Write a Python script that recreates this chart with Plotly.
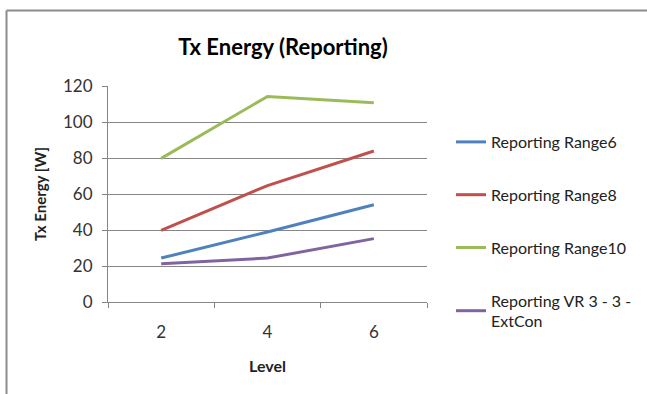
import plotly.graph_objects as go

levels = ["2", "4", "6"]
series_names = ["Reporting Range6", "Reporting Range8", "Reporting Range10", "Reporting VR 3 - 3 -<br>ExtCon"]
range6 = [24.4, 38.9, 54.0]
range8 = [39.8, 64.7, 83.9]
range10 = [79.8, 114.2, 110.7]
vr_extcon = [21.2, 24.4, 35.2]
colors = ["#4F81BD", "#C0504D", "#9BBB59", "#8064A2"]

FONT = "Lato"
fig = go.Figure()
for i, (name, vals) in enumerate(zip(series_names, [range6, range8, range10, vr_extcon])):
    fig.add_trace(go.Scatter(x=levels, y=vals, mode="lines", name=name,
                             legendgroup=f"g{i}",
                             line=dict(color=colors[i], width=3)))

W, H = 647, 394
L, R, T, B = 108, 220, 86, 92
pw, ph = W - L - R, H - T - B

fig.update_layout(
    width=W, height=H,
    margin=dict(l=L, r=R, t=T, b=B, autoexpand=False),
    paper_bgcolor="white", plot_bgcolor="white",
    font=dict(family=FONT, size=16, color="#222"),
    title=dict(text="<b>Tx Energy (Reporting)</b>", x=283 / W, xanchor="center",
               y=1 - 47 / H, yanchor="middle", font=dict(size=22, color="black", family=FONT)),
    showlegend=True,
    legend=dict(x=(451 - L) / pw, xanchor="left", y=1 - (125 - T) / ph, yanchor="top",
                tracegroupgap=29, maxheight=400, font=dict(size=16, color="#222", family=FONT),
                bgcolor="rgba(0,0,0,0)"),
    xaxis=dict(type="category", range=[-0.5, 2.5], showgrid=False, showline=True,
               linecolor="#868686", linewidth=1,
               ticks="outside", tickson="boundaries", ticklen=5, tickcolor="#868686",
               ticklabelstandoff=15,
               tickfont=dict(size=17, color="#333"), zeroline=False,
               title=dict(text="<b>Level</b>", font=dict(size=16, color="#222"), standoff=19)),
    yaxis=dict(range=[0, 120], dtick=20, showgrid=True, gridcolor="#868686", gridwidth=1,
               showline=True, linecolor="#868686", ticks="outside", ticklen=5, tickcolor="#868686",
               ticklabelstandoff=6,
               tickfont=dict(size=17, color="#333"), zeroline=False,
               title=dict(text="<b>Tx Energy [W]</b>", font=dict(size=15, color="#222"), standoff=12)),
)

# outer chart frame (top and left edges visible)
fig.add_shape(type="line", xref="paper", yref="paper",
              x0=(6.5 - L) / pw, x1=(W + 5 - L) / pw, y0=1 + (T - 10.5) / ph, y1=1 + (T - 10.5) / ph,
              line=dict(color="#8c8c8c", width=2))
fig.add_shape(type="line", xref="paper", yref="paper",
              x0=(6.5 - L) / pw, x1=(6.5 - L) / pw, y0=1 + (T - 10.5) / ph, y1=-(B + 5) / ph,
              line=dict(color="#8c8c8c", width=2))

fig.write_html("out.html", config={"displayModeBar": False},
               post_script="document.body.style.margin='0';document.body.style.overflow='hidden';")
